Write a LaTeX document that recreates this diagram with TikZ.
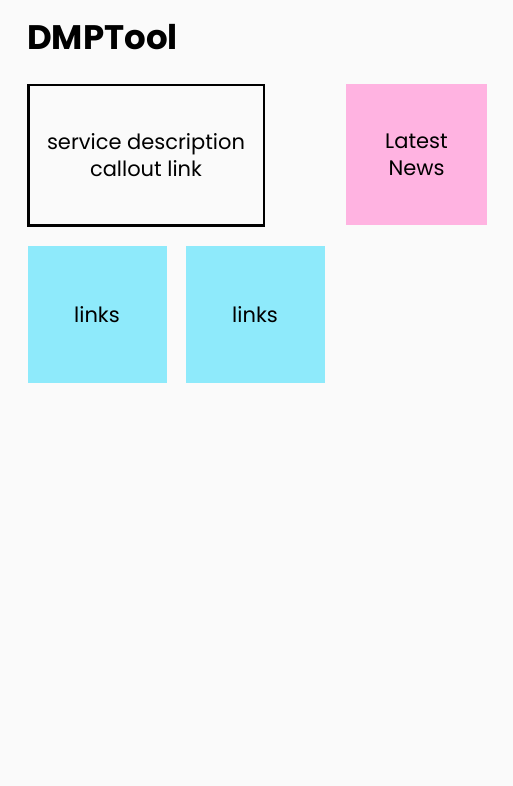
\documentclass[tikz,border=0pt]{standalone}
\usepackage{fontspec}
\setmainfont{Poppins}
\definecolor{bg}{HTML}{FAFAFA}
\definecolor{pinkbox}{HTML}{FFB3E1}
\definecolor{cyanbox}{HTML}{8EEAFB}
\begin{document}
\begin{tikzpicture}[x=1pt,y=-1pt,
  tile/.style={inner sep=0pt, align=center, font=\fontsize{21}{27.5}\selectfont},
]
\fill[bg] (0,0) rectangle (513,786);
\useasboundingbox (0,0) rectangle (513,786);
\node[anchor=base west, inner sep=0pt, font=\fontsize{34}{40}\selectfont\bfseries] (title) at (27,50) {DMPTool};
\draw[line width=2.5pt, fill=bg] (28.5,85) rectangle (264,225.5);
\node[tile] (svc) at (146,155) {service description\\callout link};
\fill[pinkbox] (346,84) rectangle (487,225);
\node[tile] (news) at (416.5,155) {Latest\\News};
\fill[cyanbox] (28,246) rectangle (166.5,383);
\node[tile] (links1) at (97,315) {links};
\fill[cyanbox] (186,246) rectangle (324.5,383);
\node[tile] (links2) at (255,315) {links};
\end{tikzpicture}
\end{document}
